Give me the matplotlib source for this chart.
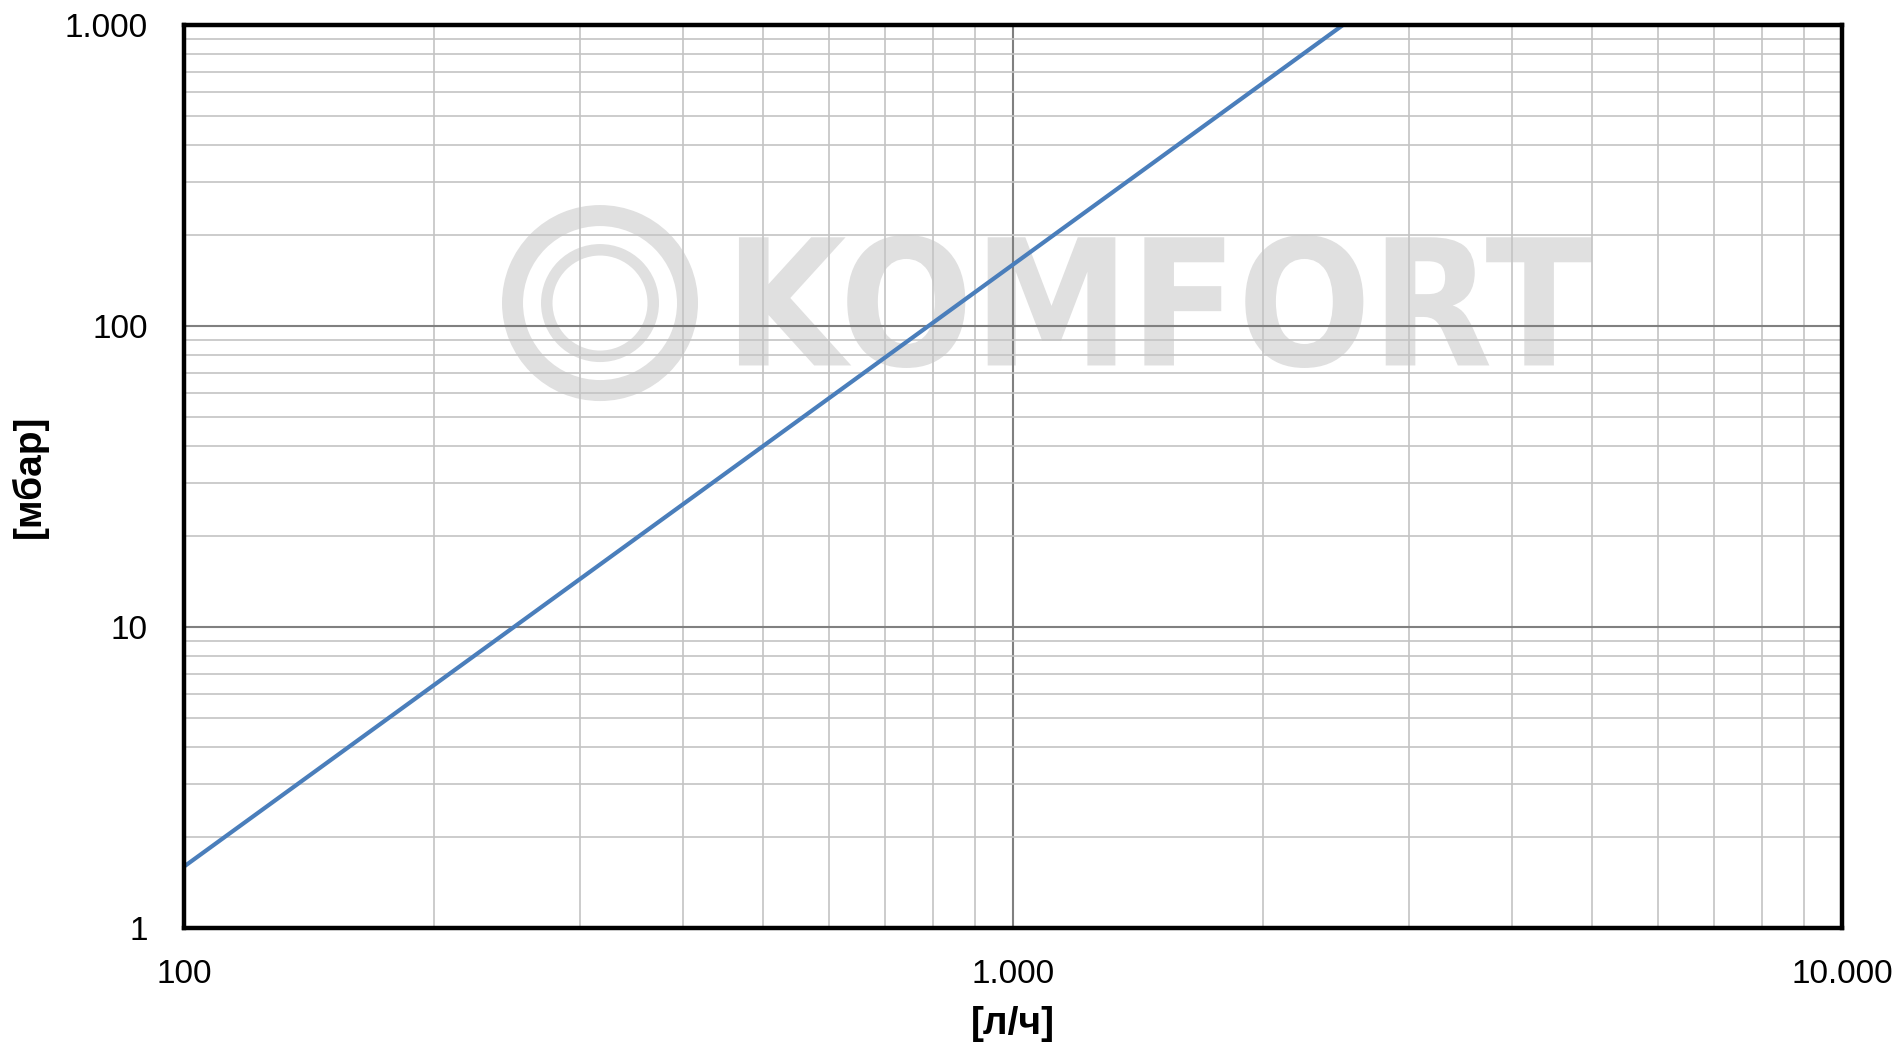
import matplotlib
matplotlib.use("Agg")
import matplotlib.pyplot as plt
import matplotlib.transforms as transforms
from matplotlib.ticker import LogLocator, FuncFormatter, NullFormatter
from matplotlib.textpath import TextPath
from matplotlib.patches import PathPatch, Wedge
from matplotlib.font_manager import FontProperties

# flow [l/h] vs pressure drop [mbar] (straight line on log-log)
flow = [100, 2500]
pressure = [1.6, 1000]

x_ticks = [100, 1000, 10000]
y_ticks = [1, 10, 100, 1000]

plt.rcParams['font.family'] = ['Liberation Sans', 'DejaVu Sans']

fig = plt.figure(figsize=(18.99, 10.56), dpi=100)
ax = fig.add_axes([0.0969, 0.1212, 0.8731, 0.8551])

ax.set_xscale('log')
ax.set_yscale('log')
ax.set_xlim(100, 10000)
ax.set_ylim(1, 1000)

ax.plot(flow, pressure, color='#4a7ebb', lw=3.0, solid_capstyle='butt', zorder=3)

dot_fmt = FuncFormatter(lambda v, p: f"{v:,.0f}".replace(",", "."))
for axis in (ax.xaxis, ax.yaxis):
    axis.set_major_locator(LogLocator(base=10))
    axis.set_minor_locator(LogLocator(base=10, subs=range(2, 10)))
    axis.set_major_formatter(dot_fmt)
    axis.set_minor_formatter(NullFormatter())
ax.set_xticks(x_ticks)
ax.set_yticks(y_ticks)

ax.set_axisbelow(True)
ax.grid(which='major', color='#808080', lw=1.5)
ax.grid(which='minor', color='#c4c4c4', lw=1.2)
ax.tick_params(which='both', length=0, labelsize=24)
ax.tick_params(axis='x', pad=22)
ax.tick_params(axis='y', pad=26)

for s in ax.spines.values():
    s.set_linewidth(3.2)
    s.set_color('black')
    s.set_zorder(4)

ax.set_xlabel('[л/ч]', fontsize=28, fontweight='bold', labelpad=12)
ax.set_ylabel('[мбар]', fontsize=28, fontweight='bold', labelpad=12)

# watermark (logo + KOMFORT), under the grid
wm = '#e0e0e0'
logo_tr = fig.dpi_scale_trans + transforms.ScaledTranslation(0.2509, 0.6921, ax.transAxes)
for r_out, w in [(0.98, 0.21), (0.59, 0.115)]:
    ax.add_patch(Wedge((0, 0), r_out, 0, 360, width=w, facecolor=wm,
                       edgecolor='none', transform=logo_tr, zorder=0.2))

tp = TextPath((0, 0), "KOMFORT", size=1, prop=FontProperties(family='DejaVu Sans', weight='bold'))
ext = tp.get_extents()
text_tr = (transforms.Affine2D().translate(-ext.x0, -ext.y0)
           .scale(8.53 / ext.width, 1.33 / ext.height)
           + fig.dpi_scale_trans
           + transforms.ScaledTranslation(0.3347, 0.6202, ax.transAxes))
ax.add_patch(PathPatch(tp, facecolor=wm, edgecolor='none', transform=text_tr, zorder=0.2))

fig.savefig('out.png', dpi=100)
